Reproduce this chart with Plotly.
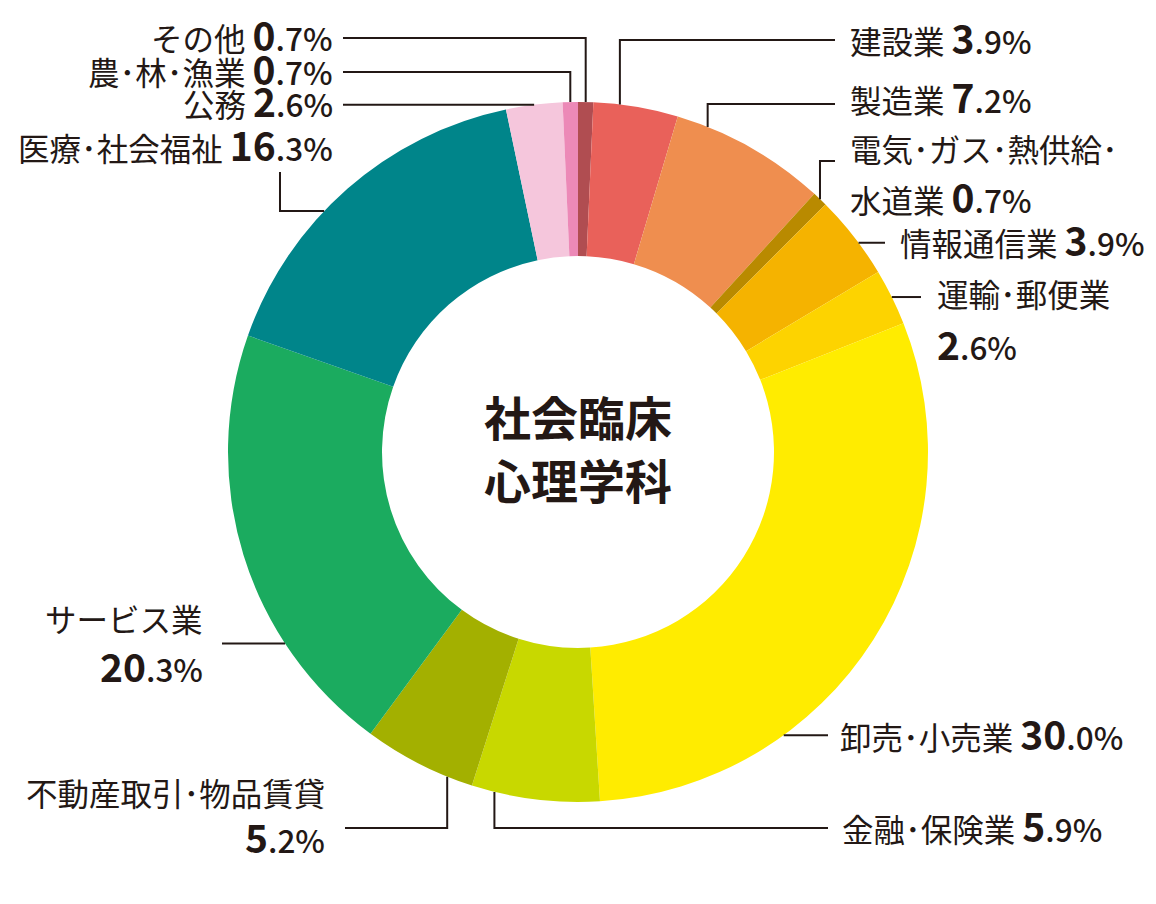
import math
import plotly.graph_objects as go

# ---------------- data ----------------
categories = ["その他", "建設業", "製造業", "電気・ガス・熱供給・水道業", "情報通信業",
              "運輸・郵便業", "卸売・小売業", "金融・保険業", "不動産取引・物品賃貸",
              "サービス業", "医療・社会福祉", "公務", "農・林・漁業"]
shares = [0.7, 3.9, 7.2, 0.7, 3.9, 2.6, 30.0, 5.9, 5.2, 20.3, 16.3, 2.6, 0.7]
colors = ["#b04d51", "#e9615a", "#ef8e4f", "#b98a00", "#f5b300", "#fdd300",
          "#ffec00", "#c8d800", "#a3b000", "#1bab5f", "#00858a", "#f5c6dc", "#ec89b7"]
center_title = ["社会臨床", "心理学科"]

# ---------------- geometry / layout ----------------
W, H = 1156, 904
CX, CY, R = 578, 452, 350
INK = "#231815"
FONT = "Noto Sans CJK JP"
NAME_SIZE = 31.5
TEXT_DY = -4


def px(x, y):
    return x / W, 1 - y / H


def disp(s):
    # narrow (half-width) middle dot as typeset in the reference
    return s.replace("・", "･")


total = sum(shares)
cum = [sum(shares[:i]) for i in range(len(shares))]


def anchor(i, frac):
    a = 2 * math.pi * (cum[i] + frac * shares[i]) / total
    return CX + R * math.sin(a), CY - R * math.cos(a)


def num_html(v):
    ip, dp = f"{v:.1f}".split(".")
    return (f"<b><span style='font-size:39px'>{ip}</span></b>"
            f"<span style='font-size:31.5px;font-weight:500'>.{dp}%</span>")


# label layout: category index -> leader route and text placement
# route: ("vh", frac, line_y, end_x) | ("hv", frac, vert_x, end_y) | ("h", frac, end_x)
label_layout = {
    0: dict(route=("vh", 0.5, 38, 343), lines=[(None, 335, 38, "right")]),
    12: dict(route=("vh", 0.5, 72, 343), lines=[(None, 335, 72, "right")]),
    11: dict(route=("h", 0.5, 343), lines=[(None, 335, 104, "right")]),
    10: dict(route=("hv", 0.41, 280, 172), lines=[(None, 335, 148, "right")]),
    9: dict(route=("h", 0.28, 222), lines=[("name", 205, 622, "right"), ("num", 205, 669, "right")]),
    8: dict(route=("vh", 0.23, 828, 345), lines=[("name", 327, 796, "right"), ("num", 327, 840, "right")]),
    7: dict(route=("vh", 0.82, 828, 828), lines=[(None, 840, 829, "left")]),
    6: dict(route=("h", 0.70, 828), lines=[(None, 838, 737, "left")]),
    5: dict(route=("h", 0.5, 921), lines=[("name", 935, 297, "left"), ("num", 935, 347, "left")]),
    4: dict(route=("h", 0.59, 885), lines=[(None, 898, 243, "left")]),
    3: dict(route=("vh", 0.5, 161, 835), lines=[("電気・ガス・熱供給・", 848, 152, "left"),
                                                 ("水道業", 848, 200, "left")]),
    2: dict(route=("vh", 0.20, 104, 835), lines=[(None, 848, 100, "left")]),
    1: dict(route=("vh", 0.31, 40, 835), lines=[(None, 848, 41, "left")]),
}

fig = go.Figure()
x0, y1 = px(CX - R, CY - R)
x1, y0 = px(CX + R, CY + R)
fig.add_trace(go.Pie(
    labels=categories, values=shares, sort=False, direction="clockwise", rotation=0,
    hole=0.56, marker=dict(colors=colors, line=dict(width=0)),
    textinfo="none", showlegend=False, domain=dict(x=[x0, x1], y=[y0, y1]),
))

shapes = []
annotations = []
for i, spec in label_layout.items():
    r = spec["route"]
    ax, ay = anchor(i, r[1])
    if r[0] == "vh":
        pts = [(ax, ay), (ax, r[2]), (r[3], r[2])]
    elif r[0] == "hv":
        pts = [(ax, ay), (r[2], ay), (r[2], r[3])]
    else:
        pts = [(ax, ay), (r[2], ay)]
    path = ""
    for k, (x, y) in enumerate(pts):
        xp, yp = px(x, y)
        path += ("M" if k == 0 else "L") + f"{xp:.5f},{yp:.5f} "
    shapes.append(dict(type="path", xref="paper", yref="paper", path=path,
                       line=dict(color=INK, width=2)))
    for kind, tx, ty, side in spec["lines"]:
        if kind is None:
            txt = f"{disp(categories[i])} {num_html(shares[i])}"
        elif kind == "name":
            txt = disp(categories[i])
        elif kind == "num":
            txt = num_html(shares[i])
        elif kind == "水道業":
            txt = f"水道業 {num_html(shares[i])}"
        else:
            txt = disp(kind)
        xp, yp = px(tx, ty + TEXT_DY)
        annotations.append(dict(x=xp, y=yp, xref="paper", yref="paper", text=txt,
                                showarrow=False, xanchor=side, yanchor="middle",
                                font=dict(family=FONT, size=NAME_SIZE, color=INK)))

for k, t in enumerate(center_title):
    xp, yp = px(CX, 415 + 63 * k)
    annotations.append(dict(x=xp, y=yp, xref="paper", yref="paper", text=f"<b>{t}</b>",
                            showarrow=False, xanchor="center", yanchor="middle",
                            font=dict(family=FONT, size=47, color=INK)))

fig.update_layout(width=W, height=H, margin=dict(l=0, r=0, t=0, b=0),
                  paper_bgcolor="white", plot_bgcolor="white",
                  shapes=shapes, annotations=annotations)
fig.write_html("out.html", config={"displayModeBar": False},
               post_script="document.body.style.margin='0';")
